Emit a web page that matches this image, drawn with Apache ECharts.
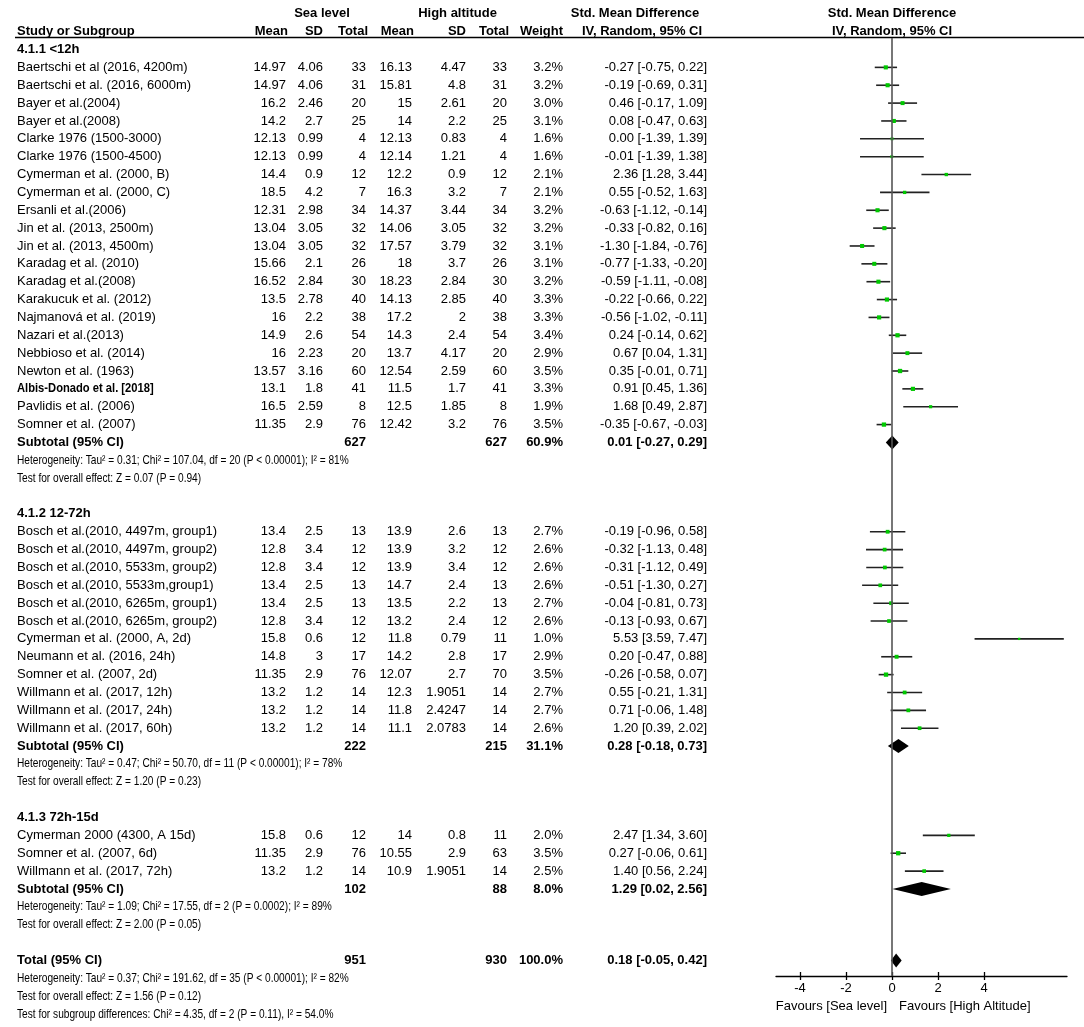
<!DOCTYPE html>
<html><head><meta charset="utf-8">
<script src="https://cdn.jsdelivr.net/npm/echarts@6/dist/echarts.min.js"></script>
<style>html,body{margin:0;padding:0;background:#fff}#c{width:1084px;height:1027px}</style>
</head><body><div id="c"></div>
<script>
// ---------------- DATA ----------------
const groupTitles = ['4.1.1 <12h', '4.1.2 12-72h', '4.1.3 72h-15d'];
const groupSizes = [21, 12, 3];
const studies = [
  'Baertschi et al (2016, 4200m)', 'Baertschi et al. (2016, 6000m)', 'Bayer et al.(2004)', 'Bayer et al.(2008)',
  'Clarke 1976 (1500-3000)', 'Clarke 1976 (1500-4500)', 'Cymerman et al. (2000, B)', 'Cymerman et al. (2000, C)',
  'Ersanli et al.(2006)', 'Jin et al. (2013, 2500m)', 'Jin et al. (2013, 4500m)', 'Karadag et al. (2010)',
  'Karadag et al.(2008)', 'Karakucuk et al. (2012)', 'Najmanová et al. (2019)', 'Nazari et al.(2013)',
  'Nebbioso et al. (2014)', 'Newton et al. (1963)', 'Albis-Donado et al. [2018]', 'Pavlidis et al. (2006)',
  'Somner et al. (2007)',
  'Bosch et al.(2010, 4497m, group1)', 'Bosch et al.(2010, 4497m, group2)', 'Bosch et al.(2010, 5533m, group2)',
  'Bosch et al.(2010, 5533m,group1)', 'Bosch et al.(2010, 6265m, group1)', 'Bosch et al.(2010, 6265m, group2)',
  'Cymerman et al. (2000, A, 2d)', 'Neumann et al. (2016, 24h)', 'Somner et al. (2007, 2d)',
  'Willmann et al. (2017, 12h)', 'Willmann et al. (2017, 24h)', 'Willmann et al. (2017, 60h)',
  'Cymerman 2000 (4300, A 15d)', 'Somner et al. (2007, 6d)', 'Willmann et al. (2017, 72h)'
];
const seaMean = [14.97, 14.97, 16.2, 14.2, 12.13, 12.13, 14.4, 18.5, 12.31, 13.04, 13.04, 15.66, 16.52, 13.5, 16, 14.9, 16, 13.57, 13.1, 16.5, 11.35,
  13.4, 12.8, 12.8, 13.4, 13.4, 12.8, 15.8, 14.8, 11.35, 13.2, 13.2, 13.2,
  15.8, 11.35, 13.2];
const seaSD = [4.06, 4.06, 2.46, 2.7, 0.99, 0.99, 0.9, 4.2, 2.98, 3.05, 3.05, 2.1, 2.84, 2.78, 2.2, 2.6, 2.23, 3.16, 1.8, 2.59, 2.9,
  2.5, 3.4, 3.4, 2.5, 2.5, 3.4, 0.6, 3, 2.9, 1.2, 1.2, 1.2,
  0.6, 2.9, 1.2];
const seaTotal = [33, 31, 20, 25, 4, 4, 12, 7, 34, 32, 32, 26, 30, 40, 38, 54, 20, 60, 41, 8, 76,
  13, 12, 12, 13, 13, 12, 12, 17, 76, 14, 14, 14,
  12, 76, 14];
const highMean = [16.13, 15.81, 15, 14, 12.13, 12.14, 12.2, 16.3, 14.37, 14.06, 17.57, 18, 18.23, 14.13, 17.2, 14.3, 13.7, 12.54, 11.5, 12.5, 12.42,
  13.9, 13.9, 13.9, 14.7, 13.5, 13.2, 11.8, 14.2, 12.07, 12.3, 11.8, 11.1,
  14, 10.55, 10.9];
const highSD = [4.47, 4.8, 2.61, 2.2, 0.83, 1.21, 0.9, 3.2, 3.44, 3.05, 3.79, 3.7, 2.84, 2.85, 2, 2.4, 4.17, 2.59, 1.7, 1.85, 3.2,
  2.6, 3.2, 3.4, 2.4, 2.2, 2.4, 0.79, 2.8, 2.7, 1.9051, 2.4247, 2.0783,
  0.8, 2.9, 1.9051];
const highTotal = [33, 31, 20, 25, 4, 4, 12, 7, 34, 32, 32, 26, 30, 40, 38, 54, 20, 60, 41, 8, 76,
  13, 12, 12, 13, 13, 12, 11, 17, 70, 14, 14, 14,
  11, 63, 14];
const weights = [3.2, 3.2, 3.0, 3.1, 1.6, 1.6, 2.1, 2.1, 3.2, 3.2, 3.1, 3.1, 3.2, 3.3, 3.3, 3.4, 2.9, 3.5, 3.3, 1.9, 3.5,
  2.7, 2.6, 2.6, 2.6, 2.7, 2.6, 1.0, 2.9, 3.5, 2.7, 2.7, 2.6,
  2.0, 3.5, 2.5];
const smd = [-0.27, -0.19, 0.46, 0.08, 0.00, -0.01, 2.36, 0.55, -0.63, -0.33, -1.30, -0.77, -0.59, -0.22, -0.56, 0.24, 0.67, 0.35, 0.91, 1.68, -0.35,
  -0.19, -0.32, -0.31, -0.51, -0.04, -0.13, 5.53, 0.20, -0.26, 0.55, 0.71, 1.20,
  2.47, 0.27, 1.40];
const ciLow = [-0.75, -0.69, -0.17, -0.47, -1.39, -1.39, 1.28, -0.52, -1.12, -0.82, -1.84, -1.33, -1.11, -0.66, -1.02, -0.14, 0.04, -0.01, 0.45, 0.49, -0.67,
  -0.96, -1.13, -1.12, -1.30, -0.81, -0.93, 3.59, -0.47, -0.58, -0.21, -0.06, 0.39,
  1.34, -0.06, 0.56];
const ciHigh = [0.22, 0.31, 1.09, 0.63, 1.39, 1.38, 3.44, 1.63, -0.14, 0.16, -0.76, -0.20, -0.08, 0.22, -0.11, 0.62, 1.31, 0.71, 1.36, 2.87, -0.03,
  0.58, 0.48, 0.49, 0.27, 0.73, 0.67, 7.47, 0.88, 0.07, 1.31, 1.48, 2.02,
  3.60, 0.61, 2.24];
const subSeaTotal = [627, 222, 102];
const subHighTotal = [627, 215, 88];
const subWeight = [60.9, 31.1, 8.0];
const subSmd = [0.01, 0.28, 1.29];
const subLow = [-0.27, -0.18, 0.02];
const subHigh = [0.29, 0.73, 2.56];
const hetNotes = [
  'Heterogeneity: Tau² = 0.31; Chi² = 107.04, df = 20 (P < 0.00001); I² = 81%',
  'Heterogeneity: Tau² = 0.47; Chi² = 50.70, df = 11 (P < 0.00001); I² = 78%',
  'Heterogeneity: Tau² = 1.09; Chi² = 17.55, df = 2 (P = 0.0002); I² = 89%'
];
const testNotes = [
  'Test for overall effect: Z = 0.07 (P = 0.94)',
  'Test for overall effect: Z = 1.20 (P = 0.23)',
  'Test for overall effect: Z = 2.00 (P = 0.05)'
];
const totalSeaTotal = 951, totalHighTotal = 930, totalWeight = 100.0;
const totalSmd = 0.18, totalLow = -0.05, totalHigh = 0.42;
const totalNotes = [
  'Heterogeneity: Tau² = 0.37; Chi² = 191.62, df = 35 (P < 0.00001); I² = 82%',
  'Test for overall effect: Z = 1.56 (P = 0.12)',
  'Test for subgroup differences: Chi² = 4.35, df = 2 (P = 0.11), I² = 54.0%'
];
const xTicks = [-4, -2, 0, 2, 4];
const favourLabels = ['Favours [Sea level]', 'Favours [High Altitude]'];

// ---------------- LAYOUT ----------------
const FAM = '"Liberation Sans", Arial, Helvetica, sans-serif';
const FS = 13;
const NOTE_SX = 0.78;
const BOLD_NAME = 'Albis-Donado et al. [2018]';
const COL = {name: 17, seaMean: 286, seaSD: 323, seaTotal: 366, highMean: 412, highSD: 466, highTotal: 507, weight: 563, ci: 707};
const ROW0 = 13.8, ROWH = 17.86;
const GRID_TOP = 38, GRID_BOTTOM_PX = 976;
const X0 = 892, PXU = 23, XL = 776, XR = 1067;

// build row descriptors
const rows = [{kind: 'head1'}, {kind: 'head2'}];
const studyRows = [], subRows = [];
let k = 0;
groupTitles.forEach((t, g) => {
  rows.push({kind: 'title', text: t});
  for (let j = 0; j < groupSizes[g]; j++, k++) { studyRows.push([smd[k], rows.length, ciLow[k], ciHigh[k], weights[k]]); rows.push({kind: 'study', idx: k}); }
  subRows.push([subSmd[g], rows.length, subLow[g], subHigh[g]]);
  rows.push({kind: 'sub', g: g});
  rows.push({kind: 'note', text: hetNotes[g]});
  rows.push({kind: 'note', text: testNotes[g]});
  rows.push({kind: 'blank'});
});
subRows.push([totalSmd, rows.length, totalLow, totalHigh]);
rows.push({kind: 'total'});
totalNotes.forEach(t => rows.push({kind: 'note', text: t}));

const yMin = (GRID_TOP - ROW0) / ROWH;
const yMax = (GRID_BOTTOM_PX - ROW0) / ROWH;

const fmt2 = v => v.toFixed(2);
const ciText = (e, l, h) => fmt2(e) + ' [' + fmt2(l) + ', ' + fmt2(h) + ']';

function T(x, y, s, align, bold, sx) {
  return {type: 'text', x: x, y: y, scaleX: sx || 1,
    style: {text: s, x: 0, y: 0, align: align, verticalAlign: 'middle', textAlign: align, textVerticalAlign: 'middle',
      font: (bold ? 'bold ' : '') + FS + 'px ' + FAM, fill: '#000'}};
}

function renderText(params, api) {
  const r = rows[params.dataIndex];
  const y = api.coord([0, params.dataIndex])[1];
  const ch = [];
  if (r.kind === 'head1') {
    ch.push(T((COL.seaMean + COL.seaTotal) / 2 - 4, y, 'Sea level', 'center', true));
    ch.push(T((COL.highMean + COL.highTotal) / 2 - 2, y, 'High altitude', 'center', true));
    ch.push(T(635, y, 'Std. Mean Difference', 'center', true));
    ch.push(T(X0, y, 'Std. Mean Difference', 'center', true));
  } else if (r.kind === 'head2') {
    ch.push(T(COL.name, y, 'Study or Subgroup', 'left', true));
    ch.push(T(COL.seaMean + 2, y, 'Mean', 'right', true));
    ch.push(T(COL.seaSD, y, 'SD', 'right', true));
    ch.push(T(COL.seaTotal + 2, y, 'Total', 'right', true));
    ch.push(T(COL.highMean + 2, y, 'Mean', 'right', true));
    ch.push(T(COL.highSD, y, 'SD', 'right', true));
    ch.push(T(COL.highTotal + 2, y, 'Total', 'right', true));
    ch.push(T(COL.weight, y, 'Weight', 'right', true));
    ch.push(T(642, y, 'IV, Random, 95% CI', 'center', true));
    ch.push(T(X0, y, 'IV, Random, 95% CI', 'center', true));
  } else if (r.kind === 'title') {
    ch.push(T(COL.name, y, r.text, 'left', true));
  } else if (r.kind === 'study') {
    const i = r.idx;
    const b = studies[i] === BOLD_NAME;
    ch.push(T(COL.name, y, studies[i], 'left', b, b ? 0.86 : 1));
    ch.push(T(COL.seaMean, y, String(seaMean[i]), 'right'));
    ch.push(T(COL.seaSD, y, String(seaSD[i]), 'right'));
    ch.push(T(COL.seaTotal, y, String(seaTotal[i]), 'right'));
    ch.push(T(COL.highMean, y, String(highMean[i]), 'right'));
    ch.push(T(COL.highSD, y, String(highSD[i]), 'right'));
    ch.push(T(COL.highTotal, y, String(highTotal[i]), 'right'));
    ch.push(T(COL.weight, y, weights[i].toFixed(1) + '%', 'right'));
    ch.push(T(COL.ci, y, ciText(smd[i], ciLow[i], ciHigh[i]), 'right'));
  } else if (r.kind === 'sub') {
    const g = r.g;
    ch.push(T(COL.name, y, 'Subtotal (95% CI)', 'left', true));
    ch.push(T(COL.seaTotal, y, String(subSeaTotal[g]), 'right', true));
    ch.push(T(COL.highTotal, y, String(subHighTotal[g]), 'right', true));
    ch.push(T(COL.weight, y, subWeight[g].toFixed(1) + '%', 'right', true));
    ch.push(T(COL.ci, y, ciText(subSmd[g], subLow[g], subHigh[g]), 'right', true));
  } else if (r.kind === 'total') {
    ch.push(T(COL.name, y, 'Total (95% CI)', 'left', true));
    ch.push(T(COL.seaTotal, y, String(totalSeaTotal), 'right', true));
    ch.push(T(COL.highTotal, y, String(totalHighTotal), 'right', true));
    ch.push(T(COL.weight, y, totalWeight.toFixed(1) + '%', 'right', true));
    ch.push(T(COL.ci, y, ciText(totalSmd, totalLow, totalHigh), 'right', true));
  } else if (r.kind === 'note') {
    ch.push(T(COL.name, y, r.text, 'left', false, NOTE_SX));
  }
  return {type: 'group', children: ch};
}

function renderStudy(params, api) {
  const row = api.value(1);
  const p = api.coord([api.value(0), row]);
  const a = api.coord([api.value(2), row]);
  const b = api.coord([api.value(3), row]);
  const s = Math.sqrt(api.value(4)) * 2.3;
  return {type: 'group', children: [
    {type: 'line', shape: {x1: a[0], y1: a[1], x2: b[0], y2: b[1]}, style: {stroke: '#222', lineWidth: 1.6}},
    {type: 'rect', shape: {x: p[0] - s / 2, y: p[1] - s / 2, width: s, height: s}, style: {fill: '#00c800'}}
  ]};
}

function renderDiamond(params, api) {
  const row = api.value(1);
  const p = api.coord([api.value(0), row]);
  const a = api.coord([api.value(2), row]);
  const b = api.coord([api.value(3), row]);
  const h = 7;
  return {type: 'polygon', shape: {points: [[a[0], p[1]], [p[0], p[1] - h], [b[0], p[1]], [p[0], p[1] + h]]},
    style: {fill: '#000'}};
}

const chart = echarts.init(document.getElementById('c'), null, {renderer: 'canvas'});
const xMin = (XL - X0) / PXU, xMax = (XR - X0) / PXU;
chart.setOption({
  animation: false,
  backgroundColor: '#fff',
  grid: {left: XL, right: 1084 - XR, top: GRID_TOP, bottom: 1027 - GRID_BOTTOM_PX, containLabel: false},
  xAxis: [{
    type: 'value', min: xMin, max: xMax, position: 'bottom',
    axisLine: {onZero: false, lineStyle: {color: '#000', width: 1.3}},
    axisTick: {customValues: xTicks, length: 4, lineStyle: {color: '#000', width: 1.3}},
    axisLabel: {customValues: xTicks, color: '#000', fontSize: 13, fontFamily: FAM, margin: 6},
    splitLine: {show: false}
  }, {
    type: 'value', min: xMin, max: xMax, position: 'top', offset: -(GRID_BOTTOM_PX - GRID_TOP),
    axisLine: {show: false, onZero: false},
    axisTick: {customValues: xTicks, length: 4, lineStyle: {color: '#000', width: 1.3}},
    axisLabel: {show: false},
    splitLine: {show: false}
  }],
  yAxis: {type: 'value', inverse: true, min: yMin, max: yMax, show: false},
  series: [
    {type: 'custom', name: 'table', data: rows.map((r, i) => [0, i]), renderItem: renderText, silent: true, clip: false, z: 5},
    {type: 'custom', name: 'studies', data: studyRows, renderItem: renderStudy, silent: true, z: 4,
      markLine: {silent: true, symbol: 'none', label: {show: false}, lineStyle: {color: '#555', width: 1.6, type: 'solid'},
        data: [{xAxis: 0}]}},
    {type: 'custom', name: 'pooled', data: subRows, renderItem: renderDiamond, silent: true, z: 4}
  ],
  graphic: [
    {type: 'line', shape: {x1: 15, y1: 37.5, x2: 1084, y2: 37.5}, style: {stroke: '#000', lineWidth: 1.3}},
    {type: 'text', x: X0 - 5, y: 1006, style: {text: favourLabels[0], align: 'right', verticalAlign: 'middle', font: FS + 'px ' + FAM, fill: '#000'}},
    {type: 'text', x: X0 + 7, y: 1006, style: {text: favourLabels[1], align: 'left', verticalAlign: 'middle', font: FS + 'px ' + FAM, fill: '#000'}}
  ]
});
</script>
</body></html>
